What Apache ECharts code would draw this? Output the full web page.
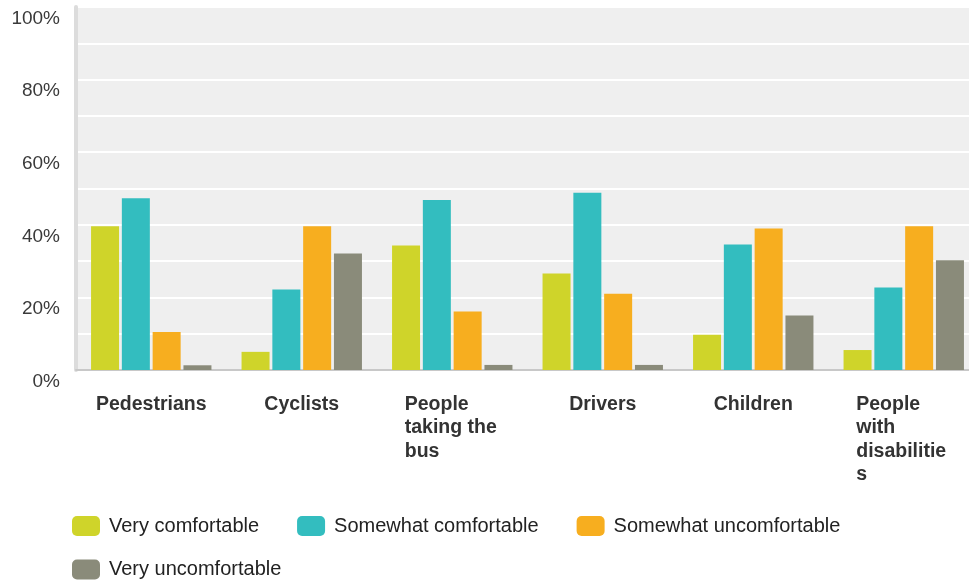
<!DOCTYPE html>
<html>
<head>
<meta charset="utf-8">
<script src="https://cdn.jsdelivr.net/npm/echarts@6/dist/echarts.min.js"></script>
<style>
html,body{margin:0;padding:0;background:#fff;}
#chart{width:969px;height:581px;}
</style>
</head>
<body>
<div id="chart"></div>
<script>
const categories = ['Pedestrians', 'Cyclists', 'People taking the bus', 'Drivers', 'Children', 'People with disabilities'];
const wrappedLabels = {
  'People taking the bus': ['People', 'taking the', 'bus'],
  'People with disabilities': ['People', 'with', 'disabilitie', 's']
};
const seriesNames = ['Very comfortable', 'Somewhat comfortable', 'Somewhat uncomfortable', 'Very uncomfortable'];
const veryComfortable = [39.6, 5.0, 34.3, 26.6, 9.7, 5.5];
const somewhatComfortable = [47.3, 22.2, 46.8, 48.8, 34.6, 22.7];
const somewhatUncomfortable = [10.5, 39.6, 16.1, 21.0, 39.0, 39.6];
const veryUncomfortable = [1.3, 32.1, 1.4, 1.4, 15.0, 30.2];
const yTicks = [0, 20, 40, 60, 80, 100];

const colors = ['#CFD42A', '#33BDBF', '#F7AE1F', '#8A8B7A'];
const values = [veryComfortable, somewhatComfortable, somewhatUncomfortable, veryUncomfortable];
const FONT = "'Liberation Sans', Arial, sans-serif";

const chart = echarts.init(document.getElementById('chart'), null, {renderer: 'canvas'});
const legendCommon = {
  orient: 'horizontal',
  left: 72,
  padding: 0,
  itemWidth: 28,
  itemHeight: 20,
  itemGap: 38,
  icon: 'roundRect',
  textStyle: {fontFamily: FONT, fontSize: 20, color: '#222', padding: [0, 0, 0, 4]}
};
chart.setOption({
  animation: false,
  backgroundColor: '#fff',
  color: colors,
  textStyle: {fontFamily: FONT},
  legend: [
    Object.assign({}, legendCommon, {top: 516, data: seriesNames.slice(0, 3)}),
    Object.assign({}, legendCommon, {top: 559.5, data: seriesNames.slice(3)})
  ],
  grid: {
    left: 76, width: 903, top: 7, height: 363,
    outerBoundsMode: 'none',
    show: true, backgroundColor: '#efefef', borderWidth: 0, containLabel: false
  },
  xAxis: {
    type: 'category',
    data: categories,
    axisLine: {show: true, lineStyle: {color: '#c8c8c8', width: 2}},
    axisTick: {show: false},
    splitLine: {show: false},
    axisLabel: {
      interval: 0,
      margin: 23,
      align: 'center',
      verticalAlign: 'top',
      formatter: function (v) {
        const lines = wrappedLabels[v];
        if (lines) return lines.map(l => '{l|' + l + '}').join('\n');
        return '{c|' + v + '}';
      },
      rich: {
        l: {width: 95, align: 'left', fontFamily: FONT, fontSize: 19.5, fontWeight: 'bold', color: '#333', lineHeight: 23.3},
        c: {fontFamily: FONT, fontSize: 19.5, fontWeight: 'bold', color: '#333', lineHeight: 23.3}
      }
    }
  },
  yAxis: {
    type: 'value',
    min: 0, max: 100, interval: 10,
    axisLine: {show: true, lineStyle: {color: '#dcdcdc', width: 4}},
    axisTick: {show: false},
    splitLine: {show: true, lineStyle: {color: '#ffffff', width: 2}},
    axisLabel: {
      margin: 16,
      verticalAlign: 'top',
      padding: [2, 0, 0, 0],
      fontFamily: FONT, fontSize: 19, color: '#3a3a3a',
      formatter: function (v) { return yTicks.indexOf(v) >= 0 ? v + '%' : ''; }
    }
  },
  series: seriesNames.map((name, i) => ({
    name: name,
    type: 'bar',
    data: values[i],
    barGap: '10%',
    barCategoryGap: '20%',
    itemStyle: {color: colors[i]}
  }))
});
</script>
</body>
</html>
